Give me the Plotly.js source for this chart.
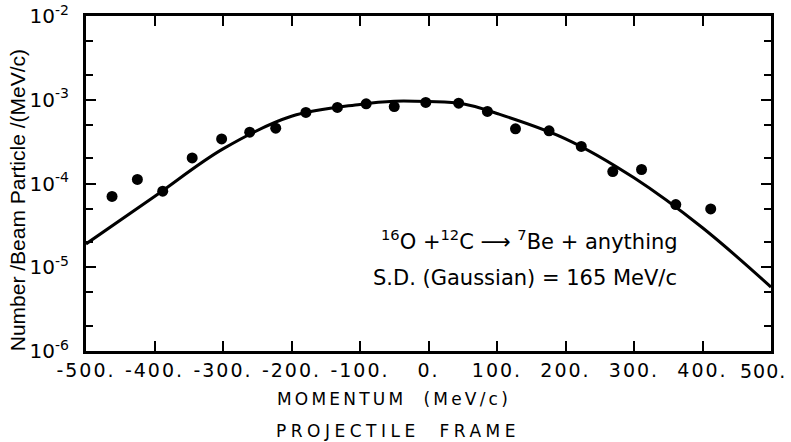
<!DOCTYPE html>
<html>
<head>
<meta charset="utf-8">
<script src="https://cdn.plot.ly/plotly-3.0.1.min.js"></script>
<style>html,body{margin:0;padding:0;background:#fff;}#chart{width:791px;height:442px;}</style>
</head>
<body>
<div id="chart"></div>
<script>
// Measured data points (momentum in MeV/c, yield per beam particle per MeV/c)
const pointMomentum = [-462, -425, -388, -345, -302, -261, -223, -179, -133, -91, -50, -4, 44, 86, 127, 176, 223, 269, 311, 361, 412];
const pointYield = [7.0e-5, 1.12e-4, 8.1e-5, 2.02e-4, 3.41e-4, 4.1e-4, 4.58e-4, 7.05e-4, 8.1e-4, 8.95e-4, 8.3e-4, 9.3e-4, 9.1e-4, 7.26e-4, 4.5e-4, 4.26e-4, 2.77e-4, 1.39e-4, 1.47e-4, 5.6e-5, 4.97e-5];

// Gaussian fit curve
const curveMomentum = [-500, -400, -300, -200, -100, -50, 0, 50, 100, 200, 300, 400, 500];
const curveYield = [1.9e-5, 7.0e-5, 2.59e-4, 6.35e-4, 8.8e-4, 9.6e-4, 9.5e-4, 8.95e-4, 6.86e-4, 3.42e-4, 1.17e-4, 2.96e-5, 5.8e-6];

// Tick labels
const xTickVals = [-500, -400, -300, -200, -100, 0, 100, 200, 300, 400, 500];
const xTickLabels = ["-500.", "-400.", "-300.", "-200.", "-100.", "0.", "100.", "200.", "300.", "400.", "500."];
const yTickVals = [1e-6, 1e-5, 1e-4, 1e-3, 1e-2];
const yTickLabels = ["10<sup>-6</sup>", "10<sup>-5</sup>", "10<sup>-4</sup>", "10<sup>-3</sup>", "10<sup>-2</sup>"];
const yMinorVals = [2e-6, 5e-6, 2e-5, 5e-5, 2e-4, 5e-4, 2e-3, 5e-3];

const FONT = "DejaVu Sans, sans-serif";
const spaced = (t, px) => '<span style="letter-spacing:' + px + 'px">' + t + '</span>';
const lastIdx = xTickLabels.length - 1;
// the last label sits at the page edge: it is drawn right-aligned as an annotation at its tick
const xTickText = xTickLabels.map((t, i) => i === lastIdx ? "" : spaced(t, 2));

const traces = [
  {
    x: curveMomentum, y: curveYield, type: "scatter", mode: "lines",
    line: {color: "#000", width: 3, shape: "spline", smoothing: 1.0},
    showlegend: false, hoverinfo: "skip"
  },
  {
    x: pointMomentum, y: pointYield, type: "scatter", mode: "markers",
    marker: {color: "#000", size: 11, symbol: "circle"},
    showlegend: false
  }
];

const layout = {
  width: 791, height: 442,
  margin: {l: 86, r: 20, t: 16, b: 91},
  paper_bgcolor: "#fff", plot_bgcolor: "#fff",
  font: {family: FONT, color: "#000", size: 18},
  showlegend: false,
  xaxis: {
    range: [-500, 500], tickmode: "array", tickvals: xTickVals,
    ticktext: xTickText,
    tickangle: 0,
    ticks: "inside", ticklen: 10, tickwidth: 2, tickcolor: "#000",
    showline: true, linecolor: "#000", linewidth: 3, mirror: "ticks",
    showgrid: false, zeroline: false, ticklabeloverflow: "allow",
    tickfont: {family: FONT, size: 19, color: "#000"}
  },
  yaxis: {
    type: "log", range: [-6, -2], tickmode: "array", tickvals: yTickVals, ticktext: yTickLabels,
    ticks: "inside", ticklen: 10, tickwidth: 2, tickcolor: "#000",
    showline: true, linecolor: "#000", linewidth: 3, mirror: "ticks",
    showgrid: false, zeroline: false, ticklabelstandoff: 10,
    tickfont: {family: FONT, size: 20, color: "#000"},
    minor: {tickvals: yMinorVals, ticks: "inside", ticklen: 7, tickwidth: 2, tickcolor: "#000", showgrid: false}
  },
  annotations: [
    {xref: "x", yref: "paper", x: xTickVals[lastIdx], y: 0, xanchor: "right", yanchor: "top", yshift: -7, xshift: 17,
     showarrow: false, text: spaced(xTickLabels[lastIdx], 1), font: {family: FONT, size: 19, color: "#000"}},
    {xref: "paper", yref: "paper", x: 0.648, y: 0.331, xanchor: "center", yanchor: "middle", showarrow: false,
     text: "<sup>16</sup>O +<sup>12</sup>C \u27F6 <sup>7</sup>Be + anything", font: {family: FONT, size: 21, color: "#000"}},
    {xref: "paper", yref: "paper", x: 0.641, y: 0.218, xanchor: "center", yanchor: "middle", showarrow: false,
     text: "S.D. (Gaussian) = 165 MeV/c", font: {family: FONT, size: 21, color: "#000"}},
    {xref: "paper", yref: "paper", x: 0.45, y: -0.143, xanchor: "center", yanchor: "middle", showarrow: false,
     text: spaced("MOMENTUM\u00a0\u00a0(MeV/c)", 3.2), font: {family: FONT, size: 17, color: "#000"}},
    {xref: "paper", yref: "paper", x: 0.455, y: -0.239, xanchor: "center", yanchor: "middle", showarrow: false,
     text: spaced("PROJECTILE\u00a0\u00a0FRAME", 4.5), font: {family: FONT, size: 17, color: "#000"}},
    {xref: "paper", yref: "paper", x: -0.1007, y: 0.45, xanchor: "center", yanchor: "middle", showarrow: false,
     textangle: -90, text: "Number /Beam Particle /(MeV/c)", font: {family: "Liberation Sans, Arial, sans-serif", size: 21, color: "#000"}}
  ]
};

Plotly.newPlot("chart", traces, layout, {displayModeBar: false, staticPlot: true});
</script>
</body>
</html>
